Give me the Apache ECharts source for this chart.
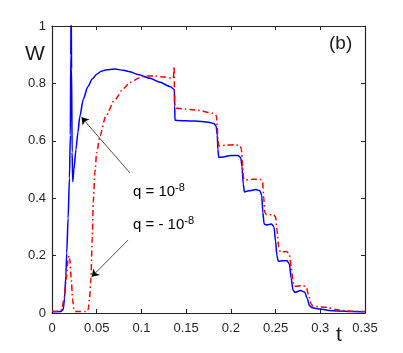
<!DOCTYPE html>
<html>
<head>
<meta charset="utf-8">
<script src="https://cdn.jsdelivr.net/npm/echarts@6/dist/echarts.min.js"></script>
<style>
  html, body { margin: 0; padding: 0; background: #fff; }
  #main { width: 403px; height: 353px; }
</style>
</head>
<body>
<div id="main"></div>
<script>
// q = 10^-8 (blue solid)
var tBlue = [0, 0.010, 0.0125, 0.014, 0.0155, 0.0165, 0.018, 0.0195, 0.0205, 0.0210, 0.0214, 0.0219, 0.0225, 0.0232,
  0.0245, 0.0268, 0.029, 0.031, 0.035, 0.040, 0.045, 0.050, 0.055, 0.060, 0.070, 0.080, 0.087, 0.095, 0.1096, 0.120,
  0.132, 0.1368, 0.1372, 0.1375, 0.140, 0.160, 0.175, 0.181, 0.1835, 0.1848, 0.1855, 0.1865, 0.190, 0.200, 0.208,
  0.211, 0.2125, 0.2138, 0.2152, 0.220, 0.228, 0.2325, 0.2345, 0.2358, 0.2372, 0.240, 0.2455, 0.2482, 0.250, 0.2515,
  0.253, 0.258, 0.263, 0.2655, 0.2675, 0.2695, 0.2715, 0.278, 0.2825, 0.2855, 0.288, 0.291, 0.300, 0.310, 0.320,
  0.335, 0.350];
var wBlue = [0.004, 0.005, 0.012, 0.05, 0.13, 0.21, 0.33, 0.47, 0.62, 0.9, 1.08, 0.85, 0.56, 0.457,
  0.50, 0.57, 0.63, 0.683, 0.745, 0.788, 0.815, 0.832, 0.842, 0.847, 0.85, 0.846, 0.841, 0.832, 0.818, 0.805,
  0.789, 0.779, 0.72, 0.672, 0.671, 0.669, 0.665, 0.66, 0.652, 0.62, 0.57, 0.542, 0.543, 0.549, 0.549,
  0.542, 0.51, 0.45, 0.422, 0.426, 0.43, 0.426, 0.41, 0.35, 0.31, 0.307, 0.31, 0.30, 0.25, 0.20,
  0.18, 0.182, 0.182, 0.17, 0.12, 0.08, 0.072, 0.078, 0.073, 0.05, 0.025, 0.018, 0.014, 0.009, 0.007,
  0.005, 0.004];

// q = -10^-8 (red dash-dot)
var tRed = [0, 0.009, 0.011, 0.0135, 0.016, 0.018, 0.019, 0.0198, 0.0215, 0.023, 0.0245, 0.026, 0.039, 0.0405,
  0.042, 0.0435, 0.045, 0.0462, 0.048, 0.050, 0.0537, 0.060, 0.070, 0.080, 0.087, 0.098, 0.105, 0.115, 0.125,
  0.1358, 0.1365, 0.1369, 0.1373, 0.140, 0.1618, 0.1804, 0.1838, 0.1848, 0.1855, 0.1865, 0.195, 0.205, 0.2105,
  0.2118, 0.213, 0.2142, 0.2155, 0.225, 0.2325, 0.2355, 0.2368, 0.238, 0.240, 0.2475, 0.250, 0.2515, 0.2535,
  0.2555, 0.2625, 0.2655, 0.2675, 0.2695, 0.271, 0.281, 0.2845, 0.287, 0.290, 0.292, 0.3075, 0.318, 0.330, 0.350];
var wRed = [0.006, 0.006, 0.012, 0.05, 0.12, 0.185, 0.2, 0.19, 0.12, 0.05, 0.012, 0.005, 0.005, 0.012,
  0.05, 0.12, 0.26, 0.39, 0.49, 0.56, 0.618, 0.685, 0.742, 0.782, 0.803, 0.82, 0.826, 0.826, 0.822,
  0.818, 0.86, 0.86, 0.72, 0.713, 0.707, 0.696, 0.688, 0.65, 0.60, 0.582, 0.585, 0.586, 0.583,
  0.57, 0.52, 0.47, 0.463, 0.466, 0.466, 0.455, 0.40, 0.35, 0.342, 0.343, 0.335, 0.29, 0.23,
  0.212, 0.214, 0.205, 0.16, 0.11, 0.093, 0.095, 0.09, 0.06, 0.03, 0.023, 0.02, 0.012, 0.007, 0.005];

var xTicks = [0, 0.05, 0.1, 0.15, 0.2, 0.25, 0.3, 0.35];
var yTicks = [0, 0.2, 0.4, 0.6, 0.8, 1];

function pairs(ts, ws) {
  return ts.map(function (t, i) { return [t, ws[i]]; });
}

var axisColor = '#262626';
var font = '"Liberation Sans", Arial, sans-serif';

var chart = echarts.init(document.getElementById('main'));

function xAx(pos, showLab) {
  return {
    type: 'value', position: pos, min: 0, max: 0.35, interval: 0.05,
    axisLine: { show: true, onZero: false, lineStyle: { color: axisColor, width: 1.2 } },
    axisTick: { show: true, inside: true, length: 4, lineStyle: { color: axisColor, width: 1 } },
    axisLabel: {
      show: showLab, color: axisColor, fontSize: 13, fontFamily: font, margin: 9,
      showMinLabel: true, showMaxLabel: true,
      formatter: function (v) { return String(+v.toFixed(2)); }
    },
    splitLine: { show: false }
  };
}
function yAx(pos, showLab) {
  return {
    type: 'value', position: pos, min: 0, max: 1, interval: 0.2,
    axisLine: { show: true, onZero: false, lineStyle: { color: axisColor, width: 1.2 } },
    axisTick: { show: true, inside: true, length: 4, lineStyle: { color: axisColor, width: 1 } },
    axisLabel: {
      show: showLab, color: axisColor, fontSize: 13, fontFamily: font, margin: 6,
      showMinLabel: true, showMaxLabel: true,
      formatter: function (v) { return String(+v.toFixed(1)); }
    },
    splitLine: { show: false }
  };
}

var option = {
  animation: false,
  backgroundColor: '#fff',
  grid: { left: 52, top: 26, right: 38, bottom: 40, containLabel: false },
  xAxis: [xAx('bottom', true), xAx('top', false)],
  yAxis: [yAx('left', true), yAx('right', false)],
  series: [
    {
      name: 'q = 1e-8', type: 'line', data: pairs(tBlue, wBlue),
      showSymbol: false, clip: true, silent: true,
      smooth: 0.25, smoothMonotone: 'x',
      lineStyle: { color: '#0000ff', width: 1.5 },
      markLine: {
        silent: true, symbol: ['none', 'arrow'], symbolSize: 7,
        label: { show: false },
        lineStyle: { color: '#000', width: 0.7, type: 'solid' },
        data: [
          [{ coord: [0.0872, 0.488] }, { coord: [0.033, 0.682] }],
          [{ coord: [0.085, 0.254] }, { coord: [0.0444, 0.1265] }]
        ]
      }
    },
    {
      name: 'q = -1e-8', type: 'line', data: pairs(tRed, wRed),
      showSymbol: false, clip: true, silent: true,
      smooth: 0.25, smoothMonotone: 'x',
      lineStyle: { color: '#ff0000', width: 1.5, type: [6, 3, 1.5, 3] }
    }
  ],
  graphic: [
    { type: 'text', left: 25, top: 44, style: { text: 'W', font: '21px ' + font, fill: '#1a1a1a' } },
    { type: 'text', left: 336, top: 325, style: { text: 't', font: '21px ' + font, fill: '#1a1a1a' } },
    { type: 'text', left: 329, top: 34, style: { text: '(b)', font: '19px ' + font, fill: '#1a1a1a' } },
    {
      type: 'text', left: 133, top: 182,
      style: {
        text: 'q = 10{s|-8}', font: '15px ' + font, fill: '#000',
        rich: { s: { fontSize: 11, fontFamily: font, fill: '#000', padding: [0, 0, 9, 0] } }
      }
    },
    {
      type: 'text', left: 133, top: 215,
      style: {
        text: 'q = - 10{s|-8}', font: '15px ' + font, fill: '#000',
        rich: { s: { fontSize: 11, fontFamily: font, fill: '#000', padding: [0, 0, 9, 0] } }
      }
    }
  ]
};

chart.setOption(option);
</script>
</body>
</html>
